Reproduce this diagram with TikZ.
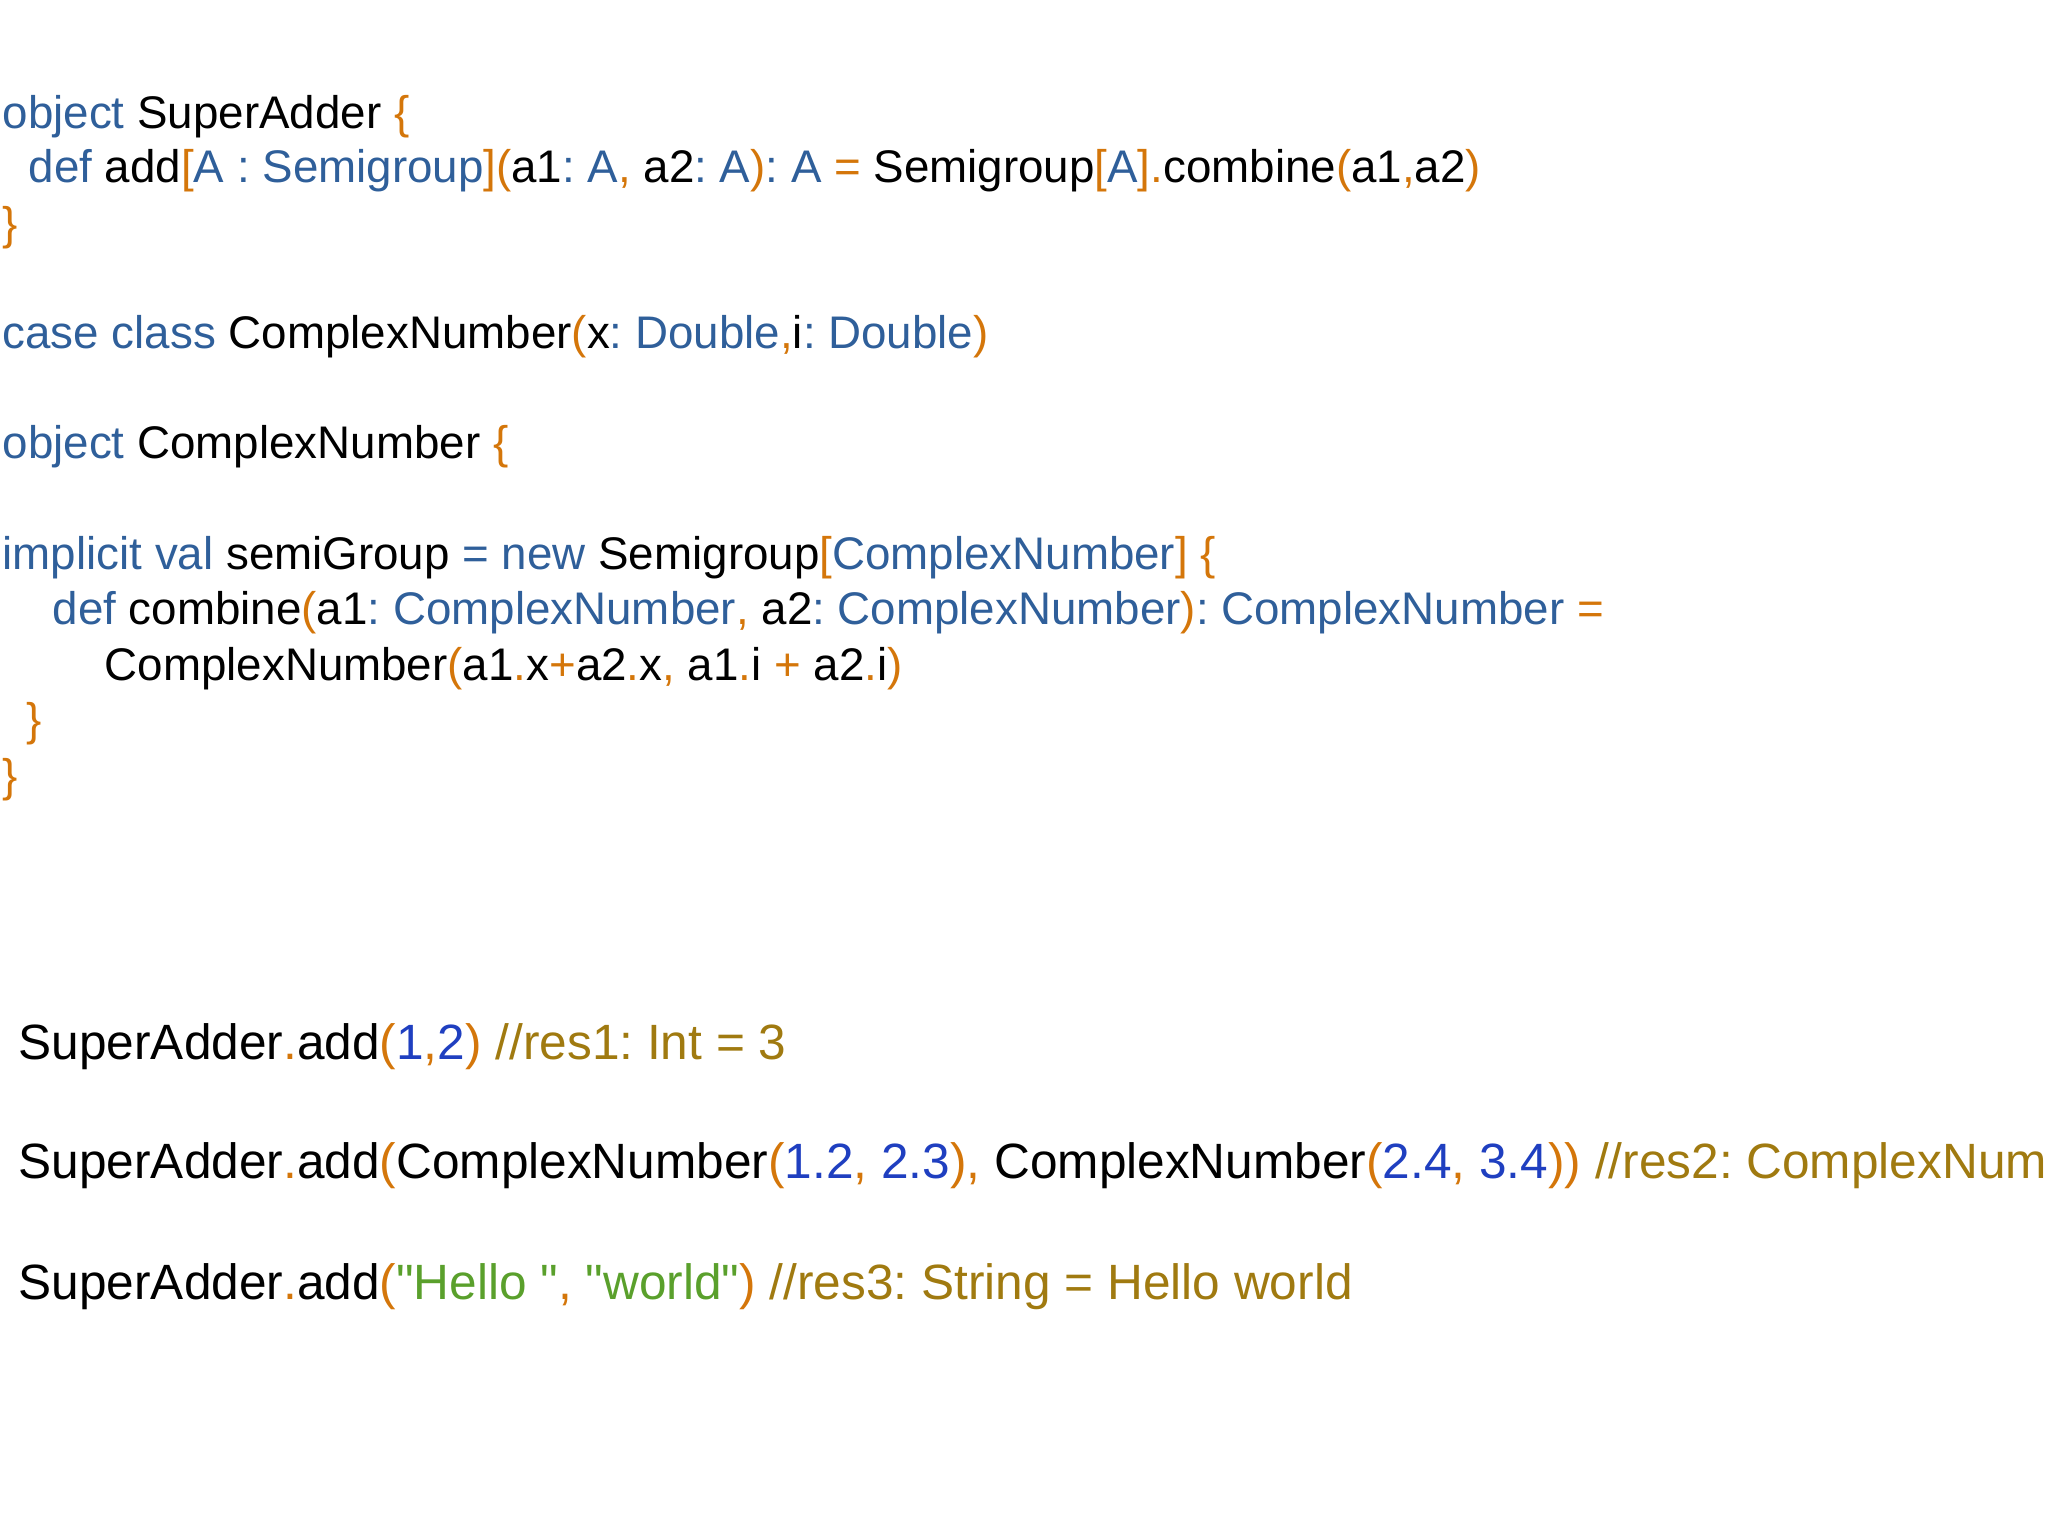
\documentclass[tikz,border=0pt]{standalone}
\usepackage{fontspec}
\setmainfont[Ligatures=TeXOff]{Liberation Sans}
\frenchspacing
\definecolor{kw}{HTML}{2F5F9A}
\definecolor{op}{HTML}{D4760A}
\definecolor{nm}{HTML}{1F3FC0}
\definecolor{cm}{HTML}{A07A10}
\definecolor{st}{HTML}{5AA02C}
\newcommand{\K}[1]{\textcolor{kw}{#1}}
\newcommand{\OO}[1]{\textcolor{op}{#1}}
\newcommand{\N}[1]{\textcolor{nm}{#1}}
\newcommand{\C}[1]{\textcolor{cm}{#1}}
\newcommand{\Sg}[1]{\textcolor{st}{#1}}
\tikzset{code/.style={anchor=base west,inner sep=0pt,font=\fontsize{13pt}{16pt}\selectfont},
 codeb/.style={code,font=\fontsize{14.1pt}{17pt}\selectfont}}
\begin{document}
\begin{tikzpicture}[x=0.01cm,y=-0.01cm]
\useasboundingbox (0,0) rectangle (2048,1536);
\clip (0,0) rectangle (2048,1536);
\node[code] (l1) at (2,128) {\K{object} SuperAdder \OO{\{}};
\node[code] (l2) at (28,182) {\K{def} add\OO{[}\K{A : Semigroup}\OO{](}a1\K{: A}\OO{,} a2\K{: A}\OO{)}\K{: A} \OO{=} Semigroup\OO{[}\K{A}\OO{].}combine\OO{(}a1\OO{,}a2\OO{)}};
\node[code] (l3) at (2,239) {\OO{\}}};
\node[code] (l4) at (2,348) {\K{case class} ComplexNumber\OO{(}x\K{: Double}\OO{,}i\K{: Double}\OO{)}};
\node[code] (l5) at (2,458) {\K{object} ComplexNumber \OO{\{}};
\node[code] (l6) at (2,569) {\K{implicit val} semiGroup \K{=} \K{new} Semigroup\OO{[}\K{ComplexNumber}\OO{] \{}};
\node[code] (l7) at (52,624) {\K{def} combine\OO{(}a1\K{: ComplexNumber}\OO{,} a2\K{: ComplexNumber}\OO{)}\K{: ComplexNumber} \OO{=}};
\node[code] (l8) at (104,680) {ComplexNumber\OO{(}a1\OO{.}x\OO{+}a2\OO{.}x\OO{,} a1\OO{.}i \OO{+} a2\OO{.}i\OO{)}};
\node[code] (l9) at (26,735) {\OO{\}}};
\node[code] (l10) at (2,791) {\OO{\}}};
\node[codeb] (l11) at (18,1059) {SuperAdder\OO{.}add\OO{(}\N{1}\OO{,}\N{2}\OO{)} \C{//res1: Int = 3}};
\node[codeb] (l12) at (18,1178) {SuperAdder\OO{.}add\OO{(}ComplexNumber\OO{(}\N{1.2}\OO{,} \N{2.3}\OO{),} ComplexNumber\OO{(}\N{2.4}\OO{,} \N{3.4}\OO{))} \C{//res2: ComplexNumber}};
\node[codeb] (l13) at (18,1299) {SuperAdder\OO{.}add\OO{(}\Sg{"Hello "}\OO{,} \Sg{"world"}\OO{)} \C{//res3: String = Hello world}};
\end{tikzpicture}
\end{document}
